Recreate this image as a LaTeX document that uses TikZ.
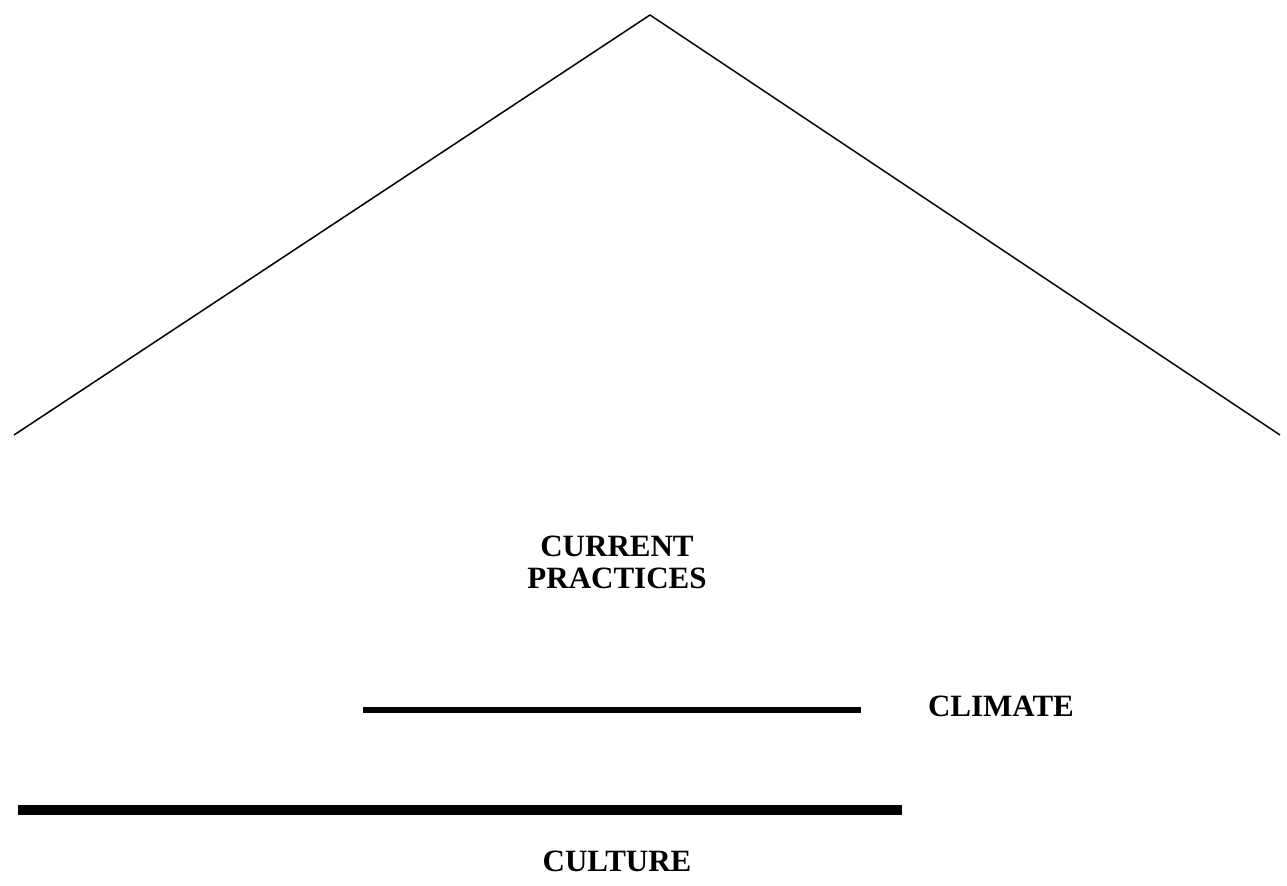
\documentclass[tikz,border=0pt]{standalone}
\usepackage{fontspec}
\setmainfont{Liberation Serif}
\usepackage{tikz}
\usetikzlibrary{positioning}

\begin{document}
\begin{tikzpicture}[
    x=0.5pt, y=-0.5pt,
    label/.style={font=\bfseries\fontsize{15.5}{16}\selectfont, align=center, inner sep=0pt},
    roof/.style={line width=0.75pt, line join=miter},
    bar/.style={line width=3pt},
    thickbar/.style={line width=5pt}
]
\useasboundingbox (0,0) rectangle (1287,886);
% roof
\coordinate (eaveL) at (14,435);
\coordinate (apex) at (650,15);
\coordinate (eaveR) at (1280,435);
\draw[roof] (eaveL) -- (apex) -- (eaveR);
% labels
\node[label, anchor=base] (practices) at (617,589) {CURRENT\\PRACTICES};
\node[label, anchor=base] (climate) at (1001,717) {CLIMATE};
\node[label, anchor=base] (culture) at (617,872) {CULTURE};
% bars
\coordinate (climL) at (363,710.5);
\coordinate (climR) at (861,710.5);
\coordinate (cultL) at (18,810.5);
\coordinate (cultR) at (902,810.5);
\draw[bar] (climL) -- (climR);
\draw[thickbar] (cultL) -- (cultR);
\end{tikzpicture}
\end{document}
